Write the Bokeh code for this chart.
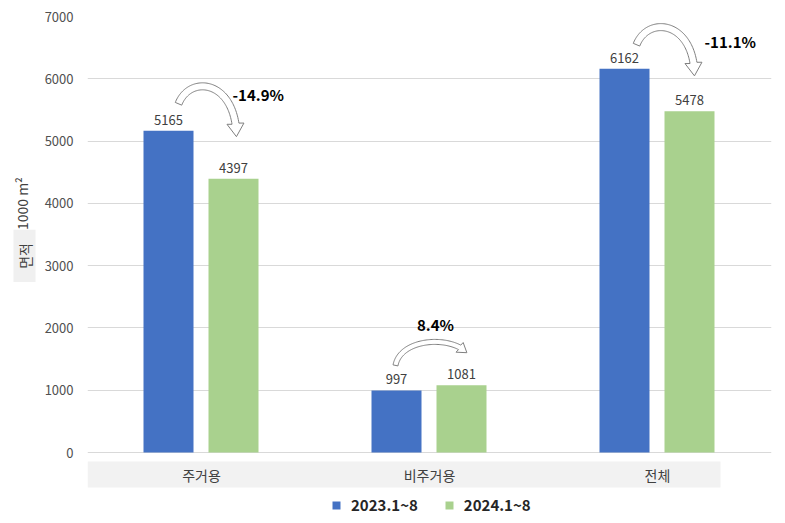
import numpy as np
from bokeh.plotting import figure
from bokeh.layouts import row
from bokeh.models import Range1d, FixedTicker, Legend, LegendItem, ColumnDataSource
from bokeh.core.properties import value
from bokeh.embed import file_html
from bokeh.resources import INLINE

# ---------------- data ----------------
categories = ["주거용", "비주거용", "전체"]
series_names = ["2023.1~8", "2024.1~8"]
values_2023 = [5165, 997, 6162]
values_2024 = [4397, 1081, 5478]
changes = ["-14.9%", "8.4%", "-11.1%"]
y_ticks = [0, 1000, 2000, 3000, 4000, 5000, 6000, 7000]
y_label_main = "1000 m²"
y_label_box = "면적"

# ---------------- layout ----------------
W, H = 785, 523
SIDE = 40                       # width of the side strip holding the y title
L, R, T, B = 87, 14, 16, 0      # frame borders measured on the whole page
ZERO_PX = 452
Y_END = 7000
scale = (ZERO_PX - T) / Y_END            # px per unit
Y_START = -(H - B - ZERO_PX) / scale
ncat = len(categories)
xpx_per = (W - R - L) / ncat

def x2px(x): return L + x * xpx_per
def px2x(px): return (px - L) / xpx_per
def y2py(y): return ZERO_PX - y * scale
def py2y(py): return (ZERO_PX - py) / scale

FONT = "Noto Sans CJK KR"
BLUE = "#4472C4"
GREEN = "#A9D18E"

p = figure(width=W - SIDE, height=H, output_backend="svg", toolbar_location=None,
           x_range=Range1d(0, ncat), y_range=Range1d(Y_START, Y_END),
           min_border_left=L - SIDE, min_border_right=R, min_border_top=T, min_border_bottom=B,
           x_axis_location=None)
p.outline_line_color = None
p.background_fill_color = "white"
p.border_fill_color = "white"
p.xgrid.visible = False
p.ygrid.ticker = FixedTicker(ticks=y_ticks)
p.ygrid.grid_line_color = "#d9d9d9"
p.yaxis.ticker = FixedTicker(ticks=y_ticks)
p.yaxis.axis_line_color = None
p.yaxis.major_tick_line_color = None
p.yaxis.minor_tick_line_color = None
p.yaxis.major_tick_out = 0
p.yaxis.major_label_standoff = 14
p.yaxis.major_label_text_font = FONT
p.yaxis.major_label_text_font_size = "13px"
p.yaxis.major_label_text_color = "#505050"

# category band
p.quad(left=[0], right=[px2x(720)], top=[py2y(461)], bottom=[py2y(487)],
       fill_color="#f2f2f2", line_color=None)

xc = np.arange(ncat) + 0.5
bw = 50 / xpx_per
xb = xc - 33 / xpx_per
xg = xc + 32 / xpx_per

src_b = ColumnDataSource(dict(x=xb, top=values_2023, lab=[str(v) for v in values_2023]))
src_g = ColumnDataSource(dict(x=xg, top=values_2024, lab=[str(v) for v in values_2024]))
rb = p.vbar(x="x", top="top", bottom=0, width=bw, source=src_b, fill_color=BLUE, line_color=None)
rg = p.vbar(x="x", top="top", bottom=0, width=bw, source=src_g, fill_color=GREEN, line_color=None)

for s in (src_b, src_g):
    p.text(x="x", y="top", text="lab", source=s, text_align="center", text_baseline="bottom",
           y_offset=-6, text_font=value(FONT), text_font_size="13px", text_color="#404040")

# category labels
p.text(x=xc, y=[py2y(474)] * ncat, text=categories, text_align="center", text_baseline="middle",
       text_font=value(FONT), text_font_size="14px", text_color="#404040")

# ---------------- curved arrows ----------------
def bezier(P, n=80):
    t = np.linspace(0, 1, n)[:, None]
    P0, P1, P2, P3 = [np.array(q, float) for q in P]
    return (1 - t) ** 3 * P0 + 3 * (1 - t) ** 2 * t * P1 + 3 * (1 - t) * t ** 2 * P2 + t ** 3 * P3

def arrow_poly(P, w, head_w, head_len):
    c = bezier(P)
    seg = np.diff(c, axis=0)
    s = np.concatenate([[0], np.cumsum(np.hypot(seg[:, 0], seg[:, 1]))])
    cut = s[-1] - head_len
    k = np.searchsorted(s, cut)
    shaft = c[:k]
    d = np.gradient(shaft, axis=0)
    d /= np.hypot(d[:, 0], d[:, 1])[:, None]
    nrm = np.stack([-d[:, 1], d[:, 0]], axis=1)
    left = shaft + nrm * w / 2
    right = shaft - nrm * w / 2
    base = shaft[-1]
    dirv = c[-1] - base
    dirv /= np.hypot(*dirv)
    nv = np.array([-dirv[1], dirv[0]])
    tip = base + dirv * head_len
    pts = np.vstack([left, [base + nv * head_w / 2], [tip], [base - nv * head_w / 2], right[::-1]])
    return pts

# per-arrow style offsets (pixels) relative to bar tops
arrow_styles = [
    dict(tail=(10, -27), tip=(3, -41), c1=(12, -30), c2=None, w=7, hw=17, hl=13),
    dict(tail=(-1, -25), tip=(6, -32), c1=(5, -27), c2=(-17, -18), w=5, hw=12, hl=9),
    dict(tail=(12, -24), tip=(5, -35), c1=(12, -30), c2=None, w=7, hw=17, hl=13),
]
pct_pos = [(-1, -84, "left"), (-26, -61, "center"), (15, -70, "left")]

for i in range(ncat):
    st = arrow_styles[i]
    b = np.array([x2px(xb[i]), y2py(values_2023[i])])
    g = np.array([x2px(xg[i]), y2py(values_2024[i])])
    P0 = b + st["tail"]
    P3 = g + st["tip"]
    P1 = P0 + st["c1"]
    P2 = (P3 + st["c2"]) if st["c2"] is not None else np.array([P3[0], P0[1] - 23])
    pts = arrow_poly([P0, P1, P2, P3], st["w"], st["hw"], st["hl"])
    p.patch(x=px2x(pts[:, 0]), y=py2y(pts[:, 1]), fill_color="white",
            line_color="#7f7f7f", line_width=1)
    dx, dy, al = pct_pos[i]
    p.text(x=[px2x(g[0] + dx)], y=[py2y(g[1] + dy)], text=[changes[i]], text_align=al,
           text_baseline="middle", text_font=value(FONT), text_font_size="15px",
           text_font_style="bold", text_color="#000000")

# ---------------- legend ----------------
legend = Legend(items=[LegendItem(label=series_names[0], renderers=[rb]),
                       LegendItem(label=series_names[1], renderers=[rg])],
                orientation="horizontal", location=(244, 8),
                border_line_color=None, background_fill_alpha=0,
                label_text_font=FONT, label_text_font_size="15px", label_text_font_style="bold",
                label_text_color="#262626", glyph_width=10, glyph_height=10,
                spacing=26, padding=0, margin=0, label_standoff=10)
p.add_layout(legend)

# ---------------- side strip: y-axis title ----------------
side = figure(width=SIDE, height=H, output_backend="svg", toolbar_location=None,
              x_range=Range1d(0, SIDE), y_range=Range1d(0, H),
              min_border_left=0, min_border_right=0, min_border_top=0, min_border_bottom=0,
              x_axis_location=None, y_axis_location=None)
side.outline_line_color = None
side.grid.visible = False
side.background_fill_color = "white"
side.border_fill_color = "white"
side.rect(x=[24], y=[H - 247], width=22, height=54, fill_color="#f0f0f0", line_color=None)
side.text(x=[24], y=[H - 247], text=[y_label_box], angle=np.pi / 2, text_align="center",
          text_baseline="middle", text_font=value(FONT), text_font_size="14px",
          text_color="#404040")
side.text(x=[21], y=[H - 193], text=[y_label_main], angle=np.pi / 2, text_align="center",
          text_baseline="middle", text_font=value(FONT), text_font_size="14px",
          text_color="#404040")

layout = row(side, p, spacing=0)
open("out.html", "w").write(file_html(layout, INLINE))
